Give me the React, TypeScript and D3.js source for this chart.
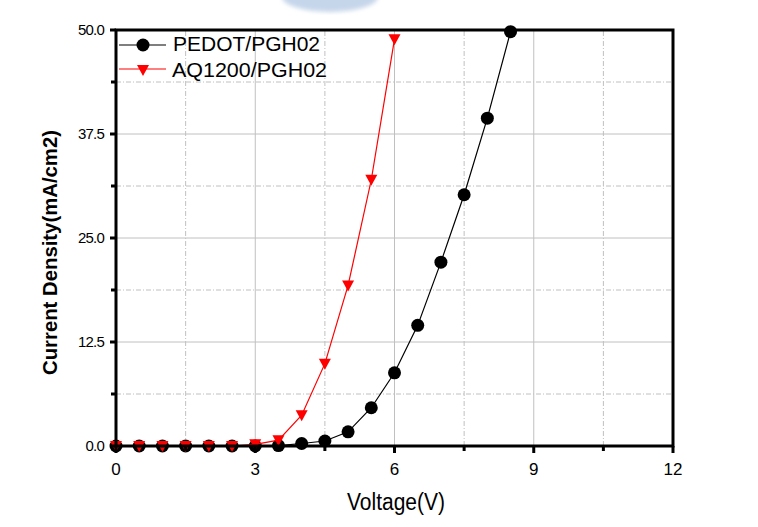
import React from "react";
import * as d3 from "d3";

const voltagePedot = [0, 0.5, 1, 1.5, 2, 2.5, 3, 3.5, 4, 4.5, 5, 5.5, 6, 6.5, 7, 7.5, 8, 8.5];
const currentPedot = [0, 0, 0, 0, 0, 0, 0, 0.05, 0.3, 0.6, 1.7, 4.6, 8.8, 14.5, 22.1, 30.2, 39.4, 49.8];
const voltageAq = [0, 0.5, 1, 1.5, 2, 2.5, 3, 3.5, 4, 4.5, 5, 5.5, 6];
const currentAq = [0, 0, 0, 0, 0, 0, 0.2, 0.7, 3.7, 9.9, 19.3, 32.0, 48.9];
const xTicks = [0, 3, 6, 9, 12];
const xMinor = [1.5, 4.5, 7.5, 10.5];
const yTicks = [0, 12.5, 25, 37.5, 50];
const yMinor = [6.25, 18.75, 31.25, 43.75];
const seriesNames = ["PEDOT/PGH02", "AQ1200/PGH02"];

export default function App() {
  const W = 758, H = 527;
  const x = d3.scaleLinear().domain([0, 12]).range([116, 673]);
  const y = d3.scaleLinear().domain([0, 50]).range([446, 30]);
  const line = d3.line<[number, number]>().x(d => x(d[0])).y(d => y(d[1]));
  const pedot = voltagePedot.map((v, i) => [v, currentPedot[i]] as [number, number]);
  const aq = voltageAq.map((v, i) => [v, currentAq[i]] as [number, number]);
  const tri = (cx: number, cy: number, s = 6) => `M${cx - s},${cy - 5} L${cx + s},${cy - 5} L${cx},${cy + 6} Z`;
  const font = "'Liberation Sans', Arial, sans-serif";
  const grid = "#c0c0c0";
  return (
    <svg width={W} height={H} style={{ position: "absolute", left: 0, top: 0, background: "#fff" }}>
      <defs>
        <filter id="blur"><feGaussianBlur stdDeviation="2" /></filter>
      </defs>
      {/* faint watermark */}
      <ellipse cx={330} cy={-3} rx={48} ry={15} fill="#c6d6ea" filter="url(#blur)" />
      {/* grid */}
      {xTicks.slice(1, -1).map(t => (
        <line key={"gx" + t} x1={x(t)} x2={x(t)} y1={y(0)} y2={y(50)} stroke={grid} strokeWidth={1} />
      ))}
      {xMinor.map(t => (
        <line key={"gxm" + t} x1={x(t)} x2={x(t)} y1={y(0)} y2={y(50)} stroke={grid} strokeWidth={1} strokeDasharray="5,2,1,2" />
      ))}
      {yTicks.slice(1, -1).map(t => (
        <line key={"gy" + t} x1={x(0)} x2={x(12)} y1={y(t)} y2={y(t)} stroke={grid} strokeWidth={1} />
      ))}
      {yMinor.map(t => (
        <line key={"gym" + t} x1={x(0)} x2={x(12)} y1={y(t)} y2={y(t)} stroke={grid} strokeWidth={1} strokeDasharray="5,2,1,2" />
      ))}
      {/* series */}
      <path d={line(pedot) || ""} fill="none" stroke="#000" strokeWidth={1.2} />
      {pedot.map((d, i) => (
        <circle key={"p" + i} cx={x(d[0])} cy={y(d[1])} r={6.5} fill="#000" />
      ))}
      <path d={line(aq) || ""} fill="none" stroke="#ff0000" strokeWidth={1.2} />
      {aq.map((d, i) => (
        <path key={"a" + i} d={tri(x(d[0]), y(d[1]))} fill="#ff0000" />
      ))}
      {/* frame */}
      <rect x={x(0)} y={y(50)} width={x(12) - x(0)} height={y(0) - y(50)} fill="none" stroke="#000" strokeWidth={3} />
      {/* x ticks */}
      {xTicks.map(t => (
        <g key={"xt" + t}>
          <line x1={x(t)} x2={x(t)} y1={y(0)} y2={y(0) + 7} stroke="#000" strokeWidth={3} />
          <text x={x(t)} y={y(0) + 29} textAnchor="middle" fontFamily={font} fontSize={17} fill="#000">{t}</text>
        </g>
      ))}
      {xMinor.map(t => (
        <line key={"xm" + t} x1={x(t)} x2={x(t)} y1={y(0)} y2={y(0) + 5} stroke="#000" strokeWidth={3} />
      ))}
      {/* y ticks */}
      {yTicks.map(t => (
        <g key={"yt" + t}>
          <line x1={x(0) - 6} x2={x(0)} y1={y(t)} y2={y(t)} stroke="#000" strokeWidth={3} />
          <text x={x(0) - 12} y={y(t) + 5} textAnchor="end" fontFamily={font} fontSize={15} letterSpacing={-0.8} fill="#000">{t.toFixed(1)}</text>
        </g>
      ))}
      {yMinor.map(t => (
        <line key={"ym" + t} x1={x(0) - 5} x2={x(0)} y1={y(t)} y2={y(t)} stroke="#000" strokeWidth={3} />
      ))}
      {/* axis titles */}
      <text x={347} y={510} textLength={98} lengthAdjust="spacingAndGlyphs" fontFamily={font} fontSize={23} fill="#000">Voltage(V)</text>
      <text transform={`translate(57,375) rotate(-90)`} textLength={245} lengthAdjust="spacingAndGlyphs" fontFamily={font} fontSize={21} fontWeight="bold" fill="#000">Current Density(mA/cm2)</text>
      {/* legend */}
      <line x1={119} x2={166} y1={45} y2={45} stroke="#000" strokeWidth={1.2} />
      <circle cx={143} cy={45} r={6.5} fill="#000" />
      <text x={173} y={51} textLength={147} lengthAdjust="spacingAndGlyphs" fontFamily={font} fontSize={21} fill="#000">{seriesNames[0]}</text>
      <line x1={119} x2={166} y1={69} y2={69} stroke="#ff0000" strokeWidth={1.2} />
      <path d={tri(143, 70)} fill="#ff0000" />
      <text x={172} y={77} textLength={155} lengthAdjust="spacingAndGlyphs" fontFamily={font} fontSize={21} fill="#000">{seriesNames[1]}</text>
    </svg>
  );
}
